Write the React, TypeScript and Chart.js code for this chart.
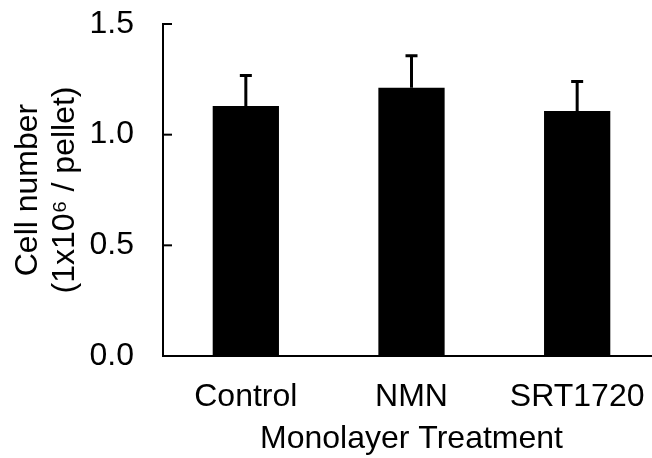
import React, { useEffect, useRef } from "react";
import { Chart, registerables } from "chart.js";

Chart.register(...registerables);

const categories = ["Control", "NMN", "SRT1720"];
const means = [1.13, 1.212, 1.107];
const errors = [0.137, 0.145, 0.133];
const yTicks = [0, 0.5, 1.0, 1.5];
const yTitle = ["Cell number", "(1x10\u2076 / pellet)"];
const xTitle = "Monolayer Treatment";

const FONT = "'Liberation Sans', Arial, sans-serif";

const errorBarPlugin = {
  id: "errorBars",
  afterDatasetsDraw(chart: any) {
    const ctx = chart.ctx;
    const meta = chart.getDatasetMeta(0);
    const y = chart.scales.y;
    ctx.save();
    ctx.strokeStyle = "#000";
    ctx.lineWidth = 3;
    meta.data.forEach((bar: any, i: number) => {
      const x = bar.x;
      const top = y.getPixelForValue(means[i] + errors[i]);
      const base = y.getPixelForValue(means[i]);
      ctx.beginPath();
      ctx.moveTo(x, base);
      ctx.lineTo(x, top);
      ctx.moveTo(x - 6, top);
      ctx.lineTo(x + 6, top);
      ctx.stroke();
    });
    ctx.lineWidth = 2;
    const left = chart.chartArea.left;
    yTicks.forEach((v) => {
      const py = y.getPixelForValue(v);
      ctx.beginPath();
      ctx.moveTo(left, py);
      ctx.lineTo(left + 9, py);
      ctx.stroke();
    });
    ctx.restore();
  },
};

export default function App() {
  const ref = useRef<HTMLCanvasElement>(null);
  useEffect(() => {
    if (!ref.current) return;
    const chart = new Chart(ref.current, {
      type: "bar",
      data: {
        labels: categories,
        datasets: [
          {
            data: means,
            backgroundColor: "#000",
            borderWidth: 0,
            categoryPercentage: 1,
            barPercentage: 0.4,
          },
        ],
      },
      options: {
        animation: false,
        responsive: false,
        maintainAspectRatio: false,
        layout: { padding: { top: 24, left: 0, right: 0, bottom: 0 } },
        plugins: { legend: { display: false }, tooltip: { enabled: false } },
        scales: {
          x: {
            grid: { display: false, drawTicks: false },
            border: { color: "#000", width: 2 },
            ticks: { color: "#000", font: { family: FONT, size: 32 }, padding: 22 },
            title: {
              display: true,
              text: xTitle,
              color: "#000",
              font: { family: FONT, size: 32, lineHeight: 1.2 },
              padding: { top: 0, bottom: 0 },
            },
            afterFit(scale: any) {
              scale.height = 102;
              scale.paddingLeft = 0;
              scale.paddingRight = 0;
              scale.paddingTop = 0;
              scale.paddingBottom = 0;
            },
          },
          y: {
            min: 0,
            max: 1.5,
            afterBuildTicks(scale: any) {
              scale.ticks = yTicks.map((v) => ({ value: v }));
            },
            grid: { display: false, drawTicks: false },
            border: { color: "#000", width: 2 },
            ticks: {
              color: "#000",
              font: { family: FONT, size: 32 },
              padding: 29,
              callback: (v: any) => Number(v).toFixed(1),
            },
            title: {
              display: true,
              text: yTitle,
              color: "#000",
              font: { family: FONT, size: 32, lineHeight: 1.15 },
              padding: { top: 10, bottom: 0 },
            },
            afterFit(scale: any) {
              scale.width = 163;
              scale.paddingLeft = 0;
              scale.paddingRight = 0;
              scale.paddingTop = 0;
              scale.paddingBottom = 0;
            },
          },
        },
      },
      plugins: [errorBarPlugin],
    });
    return () => chart.destroy();
  }, []);
  return (
    <div
      style={{
        position: "fixed",
        left: 0,
        top: 0,
        width: 652,
        height: 458,
        overflow: "hidden",
        background: "#fff",
      }}
    >
      <canvas ref={ref} width={660} height={458} style={{ display: "block" }} />
    </div>
  );
}
